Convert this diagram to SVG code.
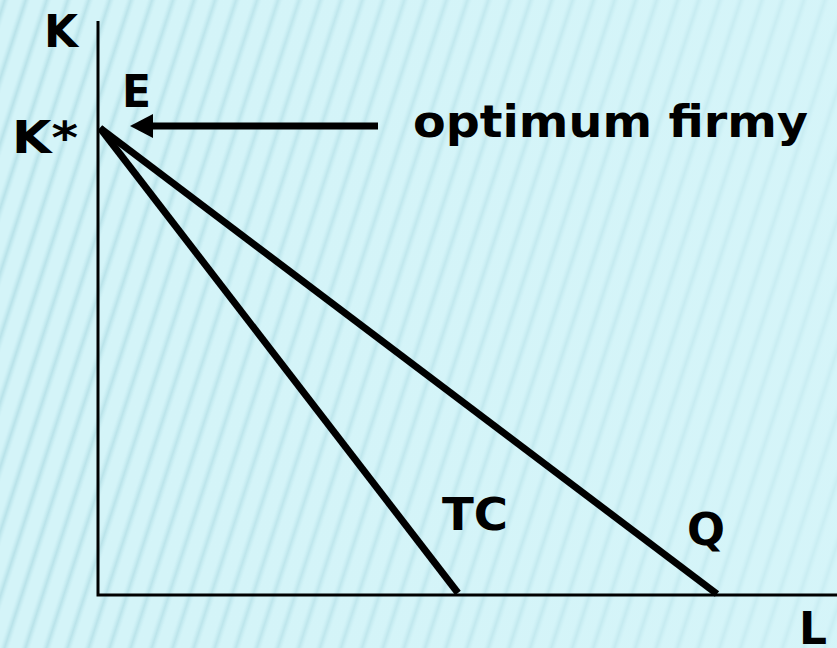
<svg xmlns="http://www.w3.org/2000/svg" width="837" height="648" viewBox="0 0 837 648">
<defs>
<linearGradient id="sg" x1="0" y1="0" x2="1" y2="0">
<stop offset="0" stop-color="#b9e3ea" stop-opacity="0"/>
<stop offset="0.5" stop-color="#b4e0e7" stop-opacity="0.85"/>
<stop offset="1" stop-color="#b9e3ea" stop-opacity="0"/>
</linearGradient>
<pattern id="stripes" width="20" height="40" patternUnits="userSpaceOnUse" patternTransform="rotate(18)">
<rect x="0" y="0" width="9" height="40" fill="url(#sg)"/>
</pattern>
<linearGradient id="fade" x1="0" y1="0" x2="1" y2="0">
<stop offset="0" stop-color="#d4f4f8" stop-opacity="0"/>
<stop offset="1" stop-color="#d6f5f9" stop-opacity="0.6"/>
</linearGradient>
</defs>
<style>
text{font-family:"DejaVu Sans","Verdana",sans-serif;font-weight:bold;fill:#000}
.lbl{font-size:44px}
.axis{stroke:#000;stroke-width:3;fill:none}
.curve{stroke:#000;stroke-width:7;fill:none;stroke-linecap:butt}
</style>
<rect width="837" height="648" fill="#d4f4f8"/>
<rect width="837" height="648" fill="url(#stripes)"/>
<rect width="837" height="648" fill="url(#fade)"/>
<g id="axes">
<path class="axis" d="M98,21 V595 H837"/>
</g>
<g id="connectors">
<line class="curve" x1="100" y1="128" x2="458" y2="593"/>
<line class="curve" x1="100" y1="128" x2="717" y2="594"/>
<line x1="378" y1="126" x2="153" y2="126" stroke="#000" stroke-width="7"/>
<path d="M130,126 L153,114 L153,138 Z" fill="#000"/>
</g>
<g id="labels">
<text class="lbl" x="44" y="47" textLength="34" lengthAdjust="spacingAndGlyphs">K</text>
<text class="lbl" x="12" y="153" textLength="66" lengthAdjust="spacingAndGlyphs">K*</text>
<text class="lbl" x="122" y="107" textLength="29" lengthAdjust="spacingAndGlyphs">E</text>
<text class="lbl" x="413" y="137" textLength="395" lengthAdjust="spacingAndGlyphs">optimum firmy</text>
<text class="lbl" x="442" y="530" textLength="66" lengthAdjust="spacingAndGlyphs">TC</text>
<text class="lbl" x="687" y="545" textLength="38" lengthAdjust="spacingAndGlyphs">Q</text>
<text class="lbl" x="799" y="644" textLength="28" lengthAdjust="spacingAndGlyphs">L</text>
</g>
</svg>
